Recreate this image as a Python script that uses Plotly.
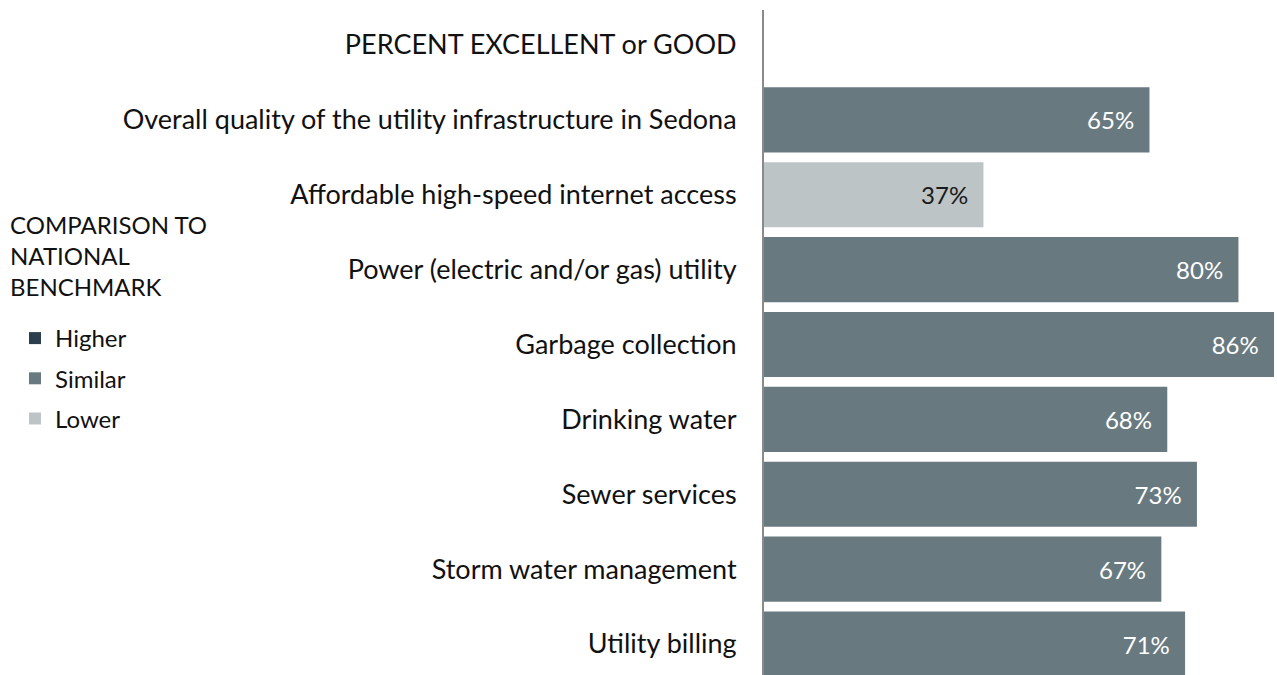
import plotly.graph_objects as go

categories = [
    "PERCENT EXCELLENT or GOOD",
    "Overall quality of the utility infrastructure in Sedona",
    "Affordable high-speed internet access",
    "Power (electric and/or gas) utility",
    "Garbage collection",
    "Drinking water",
    "Sewer services",
    "Storm water management",
    "Utility billing",
]
values = [None, 65, 37, 80, 86, 68, 73, 67, 71]
comparison = [None, "Similar", "Lower", "Similar", "Similar", "Similar", "Similar", "Similar", "Similar"]

groups = ["Higher", "Similar", "Lower"]
legend_title = "COMPARISON TO<br>NATIONAL<br>BENCHMARK"
colors = {"Higher": "#2c3e4c", "Similar": "#687a80", "Lower": "#bcc4c6"}
text_colors = {"Higher": "#ffffff", "Similar": "#ffffff", "Lower": "#1a1a1a"}

FONT = "Lato"

fig = go.Figure()
for g in groups:
    ys = [c for c, k in zip(categories, comparison) if k == g]
    xs = [v for v, k in zip(values, comparison) if k == g]
    if not ys:
        ys = [categories[0]]
        xs = [None]
    fig.add_trace(go.Bar(
        name=g, y=ys, x=xs, orientation="h",
        marker=dict(color=colors[g], line=dict(width=0)),
        texttemplate="%{x}%\u00a0\u00a0", textposition="inside", insidetextanchor="end",
        textfont=dict(color=text_colors[g], size=24, family=FONT),
        legendgroup=g, showlegend=True,
    ))

fig.add_annotation(
    text=legend_title, xref="paper", yref="paper",
    x=-756 / 513, y=1 + (10 - 208) / 665, xanchor="left", yanchor="top",
    align="left", showarrow=False,
    font=dict(size=24, family=FONT, color="#111111"),
)

fig.update_layout(
    width=1277, height=675,
    margin=dict(l=764, r=0, t=10, b=0, autoexpand=False),
    paper_bgcolor="white", plot_bgcolor="white",
    barmode="relative", bargap=0.13,
    font=dict(family=FONT, color="#111111", size=27),
    xaxis=dict(range=[0, 86.5], showgrid=False, zeroline=False, showticklabels=False,
               showline=False, fixedrange=True, automargin=False),
    yaxis=dict(categoryorder="array", categoryarray=categories,
               range=[8.414, -0.467], showgrid=False, zeroline=False,
               showline=True, linecolor="#8a8a8a", linewidth=2, automargin=False,
               ticks="", ticklabelstandoff=20, tickfont=dict(size=27, family=FONT, color="#111111")),
    legend=dict(
        xref="container", yref="container", x=15 / 1277, y=1 - 316 / 675,
        xanchor="left", yanchor="top",
        font=dict(size=24, family=FONT, color="#111111"),
        tracegroupgap=6, traceorder="grouped", bgcolor="rgba(0,0,0,0)",
    ),
    showlegend=True,
)

fig.write_html("out.html", config={"displayModeBar": False},
               post_script="document.body.style.margin='0';")
